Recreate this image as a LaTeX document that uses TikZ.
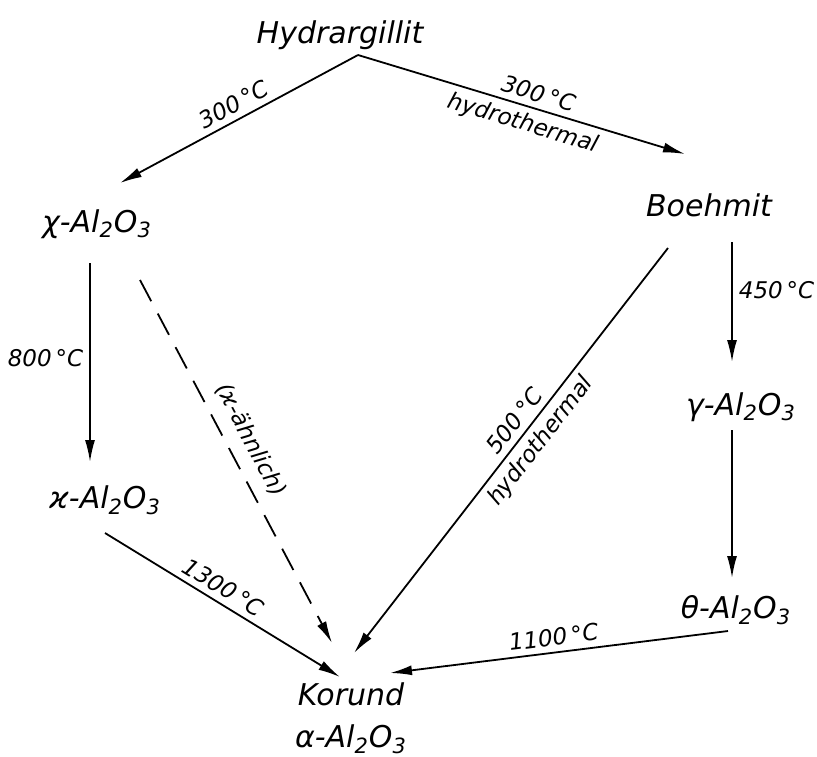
\documentclass[tikz,border=0pt]{standalone}
\usepackage{fontspec}
\setmainfont{DejaVu Sans}
\usetikzlibrary{arrows.meta,calc}
\newcommand{\alumina}{-Al\textsubscript{2}O\textsubscript{3}}

\begin{document}
\begin{tikzpicture}[x=0.5pt, y=-0.5pt,
        stoff/.style={inner sep=0pt, align=center, font=\fontsize{15}{21}\selectfont\itshape},
        temp/.style={inner sep=3pt, font=\fontsize{11.5}{13}\selectfont\itshape},
        arrow/.style={-{Latex[length=11pt,width=5pt]}, line width=0.9pt}
      ]
        \useasboundingbox (0,0) rectangle (817,756);
        \node[stoff] (hyd) at (340,35) {Hydrargillit};
        \node[stoff] (chi) at (97,224) {χ\alumina};
        \node[stoff] (boe) at (709,205) {Boehmit};
        \node[stoff] (kap) at (105,500) {ϰ\alumina};
        \node[stoff] (gam) at (741,407) {γ\alumina};
        \node[stoff] (the) at (736,610) {θ\alumina};
        \node[stoff] (kor) at (351,718) {Korund\\α\alumina};
        \coordinate (apex) at ($(hyd)+(18,20)$);
        \draw[arrow] (apex) -- ($(chi)+(23,-41)$)
          node[temp, sloped, above, pos=0.49] {300\,°C};
        \draw[arrow] (apex) -- ($(boe)+(-24,-51)$)
          node[temp, sloped, above, pos=0.54] {300\,°C}
          node[temp, sloped, below, pos=0.52] {hydrothermal};
        \draw[arrow] ($(chi)+(-7,39)$) -- ($(kap)+(-15,-38)$)
          node[temp, left, pos=0.48] {800\,°C};
        \draw[arrow, dash pattern=on 12pt off 7pt] ($(chi)+(43,56)$) -- ($(kor)+(-19,-75)$)
          node[temp, sloped, above=3pt, pos=0.47] {(ϰ-ähnlich)};
        \draw[arrow] ($(boe)+(-41,43)$) -- ($(kor)+(3,-65)$)
          node[temp, sloped, above, pos=0.45] {500\,°C}
          node[temp, sloped, below, pos=0.45] {hydrothermal};
        \draw[arrow] ($(boe)+(23,37)$) -- ($(gam)+(-9,-45)$)
          node[temp, right, pos=0.4] {450\,°C};
        \draw[arrow] ($(gam)+(-9,23)$) -- ($(the)+(-4,-32)$);
        \draw[arrow] ($(kap)+(0,33)$) -- ($(kor)+(-11,-41)$)
          node[temp, sloped, above, pos=0.47] {1300\,°C};
        \draw[arrow] ($(the)+(-8,21)$) -- ($(kor)+(39,-45)$)
          node[temp, sloped, above, pos=0.51] {1100\,°C};
      \end{tikzpicture}
\end{document}
